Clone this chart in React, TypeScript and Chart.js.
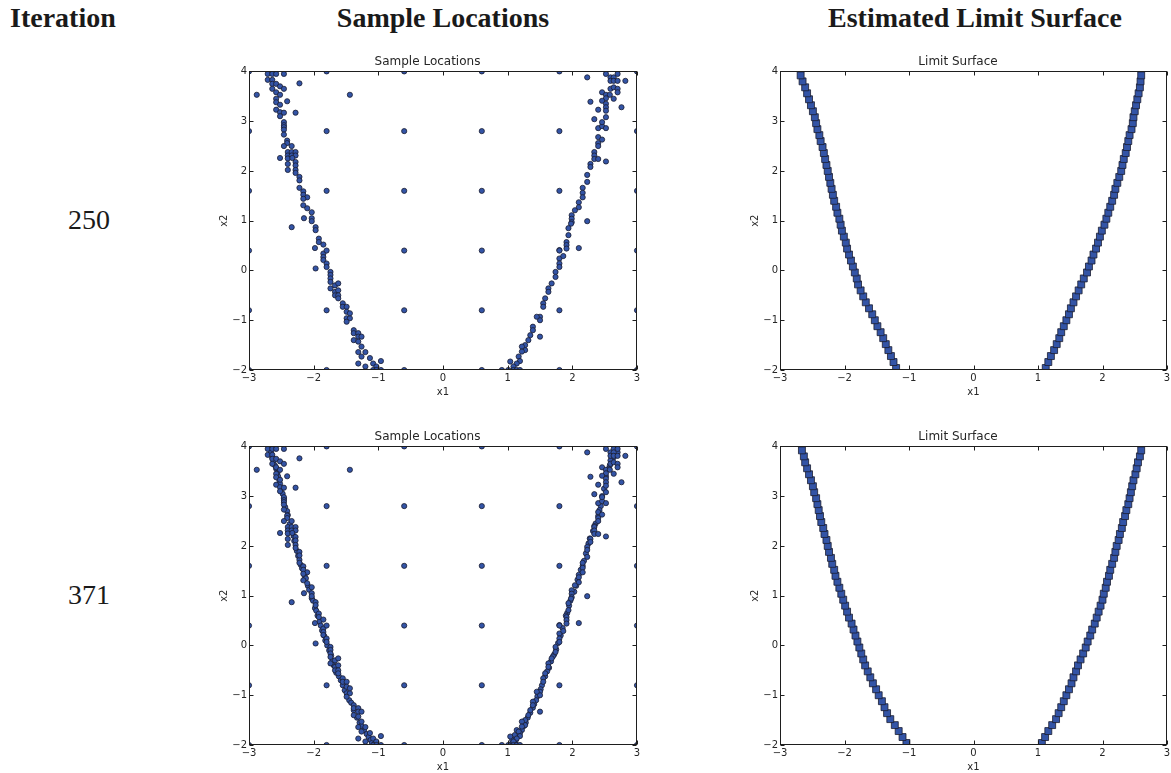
import React, { useEffect, useRef } from 'react';
import { Chart, registerables } from 'chart.js';

Chart.register(...registerables);

// ---------- axis ticks ----------
const xTickValues = [-3, -2, -1, 0, 1, 2, 3];
const yTickValues = [-2, -1, 0, 1, 2, 3, 4];

// ---------- initial design grid (6 x 6) ----------
const gridX = [-3, -1.8, -0.6, 0.6, 1.8, 3];
const gridY = [-2, -0.8, 0.4, 1.6, 2.8, 4];

// ---------- adaptive samples, iteration 250 ----------
const s250LeftX = [
  -2.71, -2.64, -2.58, -2.46, -2.71, -2.64, -2.64, -2.58, -2.64, -2.52,
  -2.46, -2.58, -2.52, -2.88, -2.22, -1.44, -2.58, -2.58, -2.41, -2.52,
  -2.58, -2.52, -2.46, -2.52, -2.28, -2.46, -2.46, -2.46, -2.46, -2.46,
  -2.41, -2.41, -2.46, -2.34, -2.52, -2.40, -2.34, -2.28, -2.40, -2.34,
  -2.28, -2.40, -2.33, -2.40, -2.28, -2.28, -2.40, -2.28, -2.28, -2.22,
  -2.22, -2.22, -2.16, -2.16, -2.10, -2.16, -2.16, -2.10, -2.15, -2.34,
  -2.03, -2.03, -2.03, -1.97, -1.97, -1.98, -1.92, -1.92, -1.85, -1.97,
  -1.85, -1.85, -1.85, -1.80, -1.80, -1.74, -1.74, -1.74, -1.74, -1.74,
  -1.67, -1.62, -1.67, -1.62, -1.67, -1.62, -1.62, -1.55, -1.55, -1.49,
  -1.49, -1.49, -1.44, -1.49, -1.44, -1.38, -1.38, -1.31, -1.31, -1.26,
  -1.38, -1.31, -1.26, -1.31, -1.31, -1.26, -1.20, -1.20, -1.13, -1.08,
  -1.03, -1.08, -1.03, -0.96, -0.96,
];
const s250LeftY = [
  3.95, 3.95, 3.95, 3.95, 3.83, 3.83, 3.75, 3.75, 3.65, 3.70,
  3.65, 3.58, 3.53, 3.53, 3.76, 3.53, 3.45, 3.38, 3.40, 3.33,
  3.23, 3.18, 3.17, 3.10, 3.17, 2.98, 2.92, 2.88, 2.83, 2.73,
  2.61, 2.56, 2.50, 2.50, 2.26, 2.38, 2.38, 2.38, 2.31, 2.31,
  2.31, 2.25, 2.26, 2.14, 2.18, 2.11, 2.02, 2.02, 1.96, 1.88,
  1.81, 1.66, 1.59, 1.52, 1.47, 1.44, 1.31, 1.25, 1.05, 0.87,
  1.17, 1.05, 0.99, 0.87, 0.81, 0.45, 0.64, 0.57, 0.52, 0.04,
  0.34, 0.27, 0.21, 0.14, 0.07, -0.03, -0.09, -0.16, -0.23, -0.36,
  -0.30, -0.26, -0.43, -0.40, -0.50, -0.50, -0.56, -0.66, -0.73, -0.73,
  -0.83, -0.96, -0.96, -1.03, -0.86, -1.20, -1.26, -1.26, -1.33, -1.33,
  -1.40, -1.43, -1.53, -1.64, -1.87, -1.73, -1.64, -1.93, -1.76, -1.87,
  -1.93, -2.00, -2.00, -1.82, -2.00,
];
const s250RightX = [
  2.23, 2.52, 2.59, 2.64, 2.70, 2.59, 2.64, 2.70, 2.82, 2.46,
  2.52, 2.59, 2.64, 2.70, 2.58, 2.64, 2.70, 2.28, 2.52, 2.46,
  2.52, 2.52, 2.52, 2.40, 2.34, 2.40, 2.46, 2.52, 2.46, 2.52,
  2.76, 2.40, 2.46, 2.40, 2.40, 2.52, 2.34, 2.34, 2.34, 2.40,
  2.28, 2.28, 2.23, 2.23, 2.16, 2.16, 2.16, 2.23, 2.10, 2.10,
  2.04, 1.99, 1.99, 1.99, 1.98, 1.94, 1.94, 2.10, 1.91, 1.91,
  1.91, 1.80, 1.80, 1.86, 1.80, 1.80, 1.74, 1.74, 1.68, 1.63,
  1.63, 1.58, 1.55, 1.55, 1.50, 1.50, 1.45, 1.50, 1.39, 1.39,
  1.35, 1.32, 1.27, 1.27, 1.22, 1.22, 1.17, 1.19, 1.14, 1.09,
  1.04, 1.09, 1.14, 1.19, 1.01, 0.91,
];
const s250RightY = [
  3.88, 3.95, 3.88, 3.88, 3.95, 3.81, 3.81, 3.81, 3.81, 3.58,
  3.53, 3.65, 3.68, 3.65, 3.53, 3.45, 3.58, 3.39, 3.46, 3.41,
  3.35, 3.28, 3.21, 3.23, 3.04, 2.86, 2.90, 2.86, 2.98, 3.08,
  3.28, 2.68, 2.63, 2.56, 2.50, 2.19, 2.38, 2.31, 2.24, 2.24,
  2.14, 2.08, 1.92, 1.78, 1.66, 1.56, 1.47, 0.99, 1.37, 1.27,
  1.21, 1.11, 1.04, 0.97, 0.94, 0.85, 0.71, 0.45, 0.57, 0.51,
  0.44, 0.41, 0.24, 0.29, 0.14, 0.07, -0.03, -0.13, -0.26, -0.36,
  -0.43, -0.56, -0.66, -0.73, -0.93, -1.00, -0.93, -1.33, -1.13, -1.20,
  -1.30, -1.40, -1.50, -1.60, -1.53, -1.63, -1.73, -1.82, -1.87, -1.93,
  -1.83, -2.00, -2.00, -2.00, -2.00, -2.00,
];

// ---------- additional samples added up to iteration 371 ----------
const s371ExtraLeftX = [
  -2.66, -2.66, -2.64, -2.62, -2.60, -2.58, -2.56, -2.55, -2.53, -2.52,
  -2.50, -2.48, -2.46, -2.44, -2.41, -2.40, -2.37, -2.31, -2.30, -2.26,
  -2.24, -2.22, -2.20, -2.18, -2.14, -2.12, -2.09, -2.07, -2.03, -2.01,
  -1.98, -1.96, -1.94, -1.91, -1.89, -1.87, -1.84, -1.82, -1.79, -1.76,
  -1.73, -1.71, -1.69, -1.65, -1.61, -1.58, -1.55, -1.52, -1.45, -1.42,
  -1.38, -1.33, -1.29, -1.26, -1.22, -1.18, -1.15, -1.12, -1.10, -1.06,
];
const s371ExtraLeftY = [
  3.95, 3.88, 3.78, 3.70, 3.62, 3.55, 3.47, 3.40, 3.32, 3.25,
  3.15, 3.05, 2.95, 2.78, 2.70, 2.62, 2.44, 2.20, 2.10, 1.90,
  1.80, 1.72, 1.62, 1.55, 1.40, 1.35, 1.20, 1.12, 0.95, 0.90,
  0.75, 0.70, 0.60, 0.48, 0.40, 0.30, 0.20, 0.10, 0.00, -0.10,
  -0.20, -0.30, -0.40, -0.55, -0.62, -0.70, -0.80, -0.90, -1.10, -1.15,
  -1.30, -1.45, -1.55, -1.62, -1.70, -1.78, -1.84, -1.90, -1.96, -1.98,
];
const s371ExtraRightX = [
  2.64, 2.70, 2.64, 2.59, 2.58, 2.56, 2.52, 2.49, 2.46, 2.44,
  2.42, 2.40, 2.36, 2.34, 2.32, 2.27, 2.25, 2.23, 2.21, 2.18,
  2.16, 2.13, 2.10, 2.08, 2.06, 2.03, 1.97, 1.95, 1.92, 1.90,
  1.85, 1.82, 1.78, 1.75, 1.72, 1.70, 1.67, 1.64, 1.61, 1.58,
  1.53, 1.51, 1.46, 1.44, 1.41, 1.39, 1.35, 1.31, 1.28, 1.25,
  1.22, 1.19, 1.16, 1.13, 1.12, 1.10, 1.06, 1.07, 1.11, 1.14,
];
const s371ExtraRightY = [
  3.95, 3.88, 3.78, 3.72, 3.62, 3.55, 3.40, 3.15, 3.00, 2.80,
  2.72, 2.60, 2.45, 2.40, 2.30, 2.15, 2.05, 1.98, 1.85, 1.70,
  1.60, 1.52, 1.42, 1.32, 1.20, 1.08, 0.90, 0.80, 0.65, 0.60,
  0.35, 0.20, 0.05, -0.08, -0.18, -0.22, -0.32, -0.45, -0.52, -0.62,
  -0.80, -0.88, -1.02, -1.10, -1.18, -1.25, -1.35, -1.45, -1.55, -1.62,
  -1.70, -1.76, -1.82, -1.88, -1.93, -1.96, -1.98, -1.90, -1.80, -1.70,
];

// ---------- estimated limit surface (band rows) ----------
const lsRowY = [
  -1.96, -1.84, -1.72, -1.60, -1.48, -1.36, -1.24, -1.12, -1.00, -0.88,
  -0.76, -0.64, -0.52, -0.40, -0.28, -0.16, -0.04, 0.08, 0.20, 0.32,
  0.44, 0.56, 0.68, 0.80, 0.92, 1.04, 1.16, 1.28, 1.40, 1.52,
  1.64, 1.76, 1.88, 2.00, 2.12, 2.24, 2.36, 2.48, 2.60, 2.72,
  2.84, 2.96, 3.08, 3.20, 3.32, 3.44, 3.56, 3.68, 3.80, 3.92,
];
const ls250LeftX = [
  -1.20, -1.24, -1.28, -1.32, -1.36, -1.40, -1.44, -1.49, -1.53, -1.57,
  -1.62, -1.67, -1.71, -1.75, -1.79, -1.81, -1.84, -1.87, -1.90, -1.93,
  -1.96, -1.98, -2.01, -2.04, -2.06, -2.08, -2.11, -2.13, -2.16, -2.18,
  -2.20, -2.22, -2.24, -2.26, -2.28, -2.30, -2.32, -2.34, -2.37, -2.39,
  -2.42, -2.44, -2.46, -2.49, -2.52, -2.55, -2.58, -2.61, -2.65, -2.68,
];
const ls250RightX = [
  1.12, 1.16, 1.20, 1.25, 1.29, 1.33, 1.36, 1.40, 1.44, 1.48,
  1.51, 1.55, 1.59, 1.63, 1.67, 1.71, 1.76, 1.79, 1.83, 1.86,
  1.90, 1.93, 1.96, 1.99, 2.03, 2.06, 2.09, 2.12, 2.15, 2.18,
  2.20, 2.23, 2.26, 2.29, 2.31, 2.33, 2.36, 2.38, 2.40, 2.42,
  2.45, 2.47, 2.48, 2.50, 2.52, 2.54, 2.56, 2.58, 2.59, 2.60,
];
const ls371LeftX = [
  -1.04, -1.10, -1.16, -1.22, -1.29, -1.34, -1.38, -1.42, -1.47, -1.51,
  -1.56, -1.60, -1.64, -1.68, -1.71, -1.74, -1.77, -1.80, -1.83, -1.86,
  -1.89, -1.93, -1.96, -1.99, -2.02, -2.05, -2.08, -2.11, -2.14, -2.16,
  -2.19, -2.21, -2.24, -2.26, -2.28, -2.31, -2.33, -2.36, -2.38, -2.40,
  -2.42, -2.44, -2.47, -2.49, -2.52, -2.55, -2.58, -2.61, -2.63, -2.66,
];
const ls371RightX = [
  1.06, 1.11, 1.16, 1.22, 1.28, 1.32, 1.36, 1.40, 1.44, 1.48,
  1.52, 1.55, 1.59, 1.62, 1.66, 1.70, 1.74, 1.77, 1.81, 1.84,
  1.88, 1.91, 1.94, 1.97, 2.00, 2.02, 2.05, 2.07, 2.10, 2.12,
  2.15, 2.18, 2.20, 2.22, 2.25, 2.27, 2.30, 2.32, 2.35, 2.37,
  2.40, 2.42, 2.44, 2.46, 2.48, 2.51, 2.53, 2.55, 2.58, 2.60,
];

// ---------- styling ----------
const FILL = '#3354a6';
const EDGE = '#1a1d30';
const TEXT = '#262626';
const FONT = "'DejaVu Sans', sans-serif";

const pts = (xs: number[], ys: number[]) => xs.map((x, i) => ({ x, y: ys[i] }));
const gridPts = () => {
  const out: { x: number; y: number }[] = [];
  gridX.forEach((x) => gridY.forEach((y) => out.push({ x, y })));
  return out;
};

const sampleSet = (data: { x: number; y: number }[]) => ({
  data,
  pointStyle: 'circle',
  pointRadius: 2.6,
  pointHoverRadius: 2.6,
  backgroundColor: FILL,
  borderColor: EDGE,
  borderWidth: 0.8,
  showLine: false,
  clip: 0,
});
const bandSet = (data: { x: number; y: number }[]) => ({
  data,
  pointStyle: 'rect',
  pointRadius: 4.9,
  pointHoverRadius: 4.9,
  backgroundColor: FILL,
  borderColor: EDGE,
  borderWidth: 0.8,
  showLine: false,
  clip: 0,
});

const fmt = (v: any) => {
  const n = Number(v);
  return n < 0 ? '\u2212' + Math.abs(n) : String(n);
};

const framePlugin = {
  id: 'frameTicks',
  afterDatasetsDraw(chart: any) {
    const { ctx, chartArea: a, scales } = chart;
    const L = Math.round(a.left) + 0.5;
    const R = Math.round(a.right) - 0.5;
    const T = Math.round(a.top) + 0.5;
    const B = Math.round(a.bottom) - 0.5;
    ctx.save();
    ctx.strokeStyle = '#1e1e1e';
    ctx.lineWidth = 1;
    ctx.strokeRect(L, T, R - L, B - T);
    ctx.beginPath();
    xTickValues.forEach((v) => {
      const px = Math.round(scales.x.getPixelForValue(v)) + 0.5;
      ctx.moveTo(px, B); ctx.lineTo(px, B - 4);
      ctx.moveTo(px, T); ctx.lineTo(px, T + 4);
    });
    yTickValues.forEach((v) => {
      const py = Math.round(scales.y.getPixelForValue(v)) + 0.5;
      ctx.moveTo(L, py); ctx.lineTo(L + 4, py);
      ctx.moveTo(R, py); ctx.lineTo(R - 4, py);
    });
    ctx.stroke();
    ctx.restore();
  },
};

type PanelProps = {
  left: number;
  top: number;
  width: number;
  height: number;
  title: string;
  datasets: any[];
};

function Panel({ left, top, width, height, title, datasets }: PanelProps) {
  const ref = useRef<HTMLCanvasElement>(null);
  useEffect(() => {
    const tickFont = { family: FONT, size: 10 };
    const chart = new Chart(ref.current as HTMLCanvasElement, {
      type: 'scatter',
      data: { datasets },
      options: {
        animation: false,
        responsive: false,
        maintainAspectRatio: false,
        events: [],
        layout: { padding: { left: 8, right: 39, top: 0, bottom: 0 } },
        plugins: {
          legend: { display: false },
          tooltip: { enabled: false },
          title: {
            display: true,
            text: title,
            color: TEXT,
            font: { family: FONT, size: 12, weight: 'normal' },
            padding: { top: 5, bottom: 2 },
          },
        },
        scales: {
          x: {
            type: 'linear',
            min: -3,
            max: 3,
            grid: { display: false, drawTicks: false },
            border: { display: false },
            afterBuildTicks: (s: any) => {
              s.ticks = xTickValues.map((value) => ({ value }));
            },
            afterFit: (s: any) => {
              s.height = 30;
            },
            ticks: { font: tickFont, color: TEXT, padding: 2, maxRotation: 0, autoSkip: false, callback: fmt },
            title: { display: true, text: 'x1', color: TEXT, font: tickFont, padding: { top: 0, bottom: 2 } },
          },
          y: {
            type: 'linear',
            min: -2,
            max: 4,
            grid: { display: false, drawTicks: false },
            border: { display: false },
            afterBuildTicks: (s: any) => {
              s.ticks = yTickValues.map((value) => ({ value }));
            },
            afterFit: (s: any) => {
              s.width = 31;
            },
            ticks: { font: tickFont, color: TEXT, padding: 2, autoSkip: false, callback: fmt },
            title: { display: true, text: 'x2', color: TEXT, font: tickFont, padding: { top: 0, bottom: 0 } },
          },
        },
      } as any,
      plugins: [framePlugin],
    });
    return () => chart.destroy();
  }, []);
  return (
    <canvas
      ref={ref}
      width={width}
      height={height}
      style={{ position: 'absolute', left, top, width, height }}
    />
  );
}

const headStyle: React.CSSProperties = {
  position: 'absolute',
  fontFamily: "'Liberation Serif', 'Times New Roman', serif",
  fontWeight: 'bold',
  fontSize: 28,
  lineHeight: '28px',
  color: '#1a1a1a',
  whiteSpace: 'nowrap',
};
const iterStyle: React.CSSProperties = {
  position: 'absolute',
  fontFamily: "'Liberation Serif', 'Times New Roman', serif",
  fontSize: 28,
  lineHeight: '28px',
  color: '#1a1a1a',
  width: 80,
  textAlign: 'center',
};

export default function App() {
  const grid = gridPts();
  const s250 = [sampleSet(grid), sampleSet(pts(s250LeftX, s250LeftY)), sampleSet(pts(s250RightX, s250RightY))];
  const s371 = [
    ...s250,
    sampleSet(pts(s371ExtraLeftX, s371ExtraLeftY)),
    sampleSet(pts(s371ExtraRightX, s371ExtraRightY)),
  ];
  const ls250 = [bandSet(pts(ls250LeftX, lsRowY)), bandSet(pts(ls250RightX, lsRowY))];
  const ls371 = [bandSet(pts(ls371LeftX, lsRowY)), bandSet(pts(ls371RightX, lsRowY))];

  return (
    <div
      style={{
        position: 'absolute',
        left: 0,
        top: 0,
        width: 1171,
        height: 773,
        overflow: 'hidden',
        background: '#ffffff',
      }}
    >
      <div style={{ ...headStyle, left: 10, top: 4 }}>Iteration</div>
      <div style={{ ...headStyle, left: 243, top: 4, width: 400, textAlign: 'center' }}>Sample Locations</div>
      <div style={{ ...headStyle, left: 775, top: 4, width: 400, textAlign: 'center' }}>Estimated Limit Surface</div>
      <div style={{ ...iterStyle, left: 49, top: 206 }}>250</div>
      <div style={{ ...iterStyle, left: 49, top: 581 }}>371</div>

      <Panel left={210} top={50} width={466} height={350} title="Sample Locations" datasets={s250} />
      <Panel left={741} top={50} width={465} height={350} title="Limit Surface" datasets={ls250} />
      <Panel left={210} top={425} width={466} height={350} title="Sample Locations" datasets={s371} />
      <Panel left={741} top={425} width={465} height={350} title="Limit Surface" datasets={ls371} />
    </div>
  );
}
